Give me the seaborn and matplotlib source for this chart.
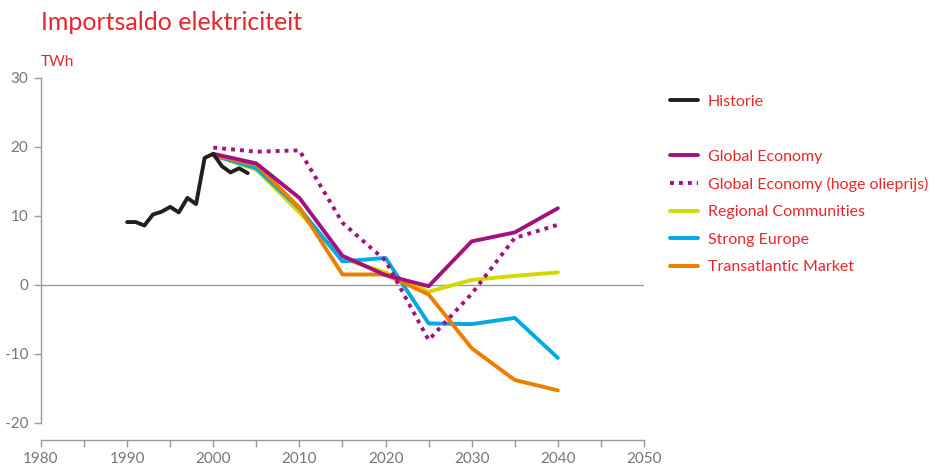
import pandas as pd
import matplotlib.pyplot as plt
import seaborn as sns
from matplotlib.lines import Line2D

# Data
hist_years = [1990, 1991, 1992, 1993, 1994, 1995, 1996, 1997, 1998, 1999,
              2000, 2001, 2002, 2003, 2004]
hist_vals = [9.1, 9.1, 8.6, 10.2, 10.6, 11.3, 10.5, 12.6, 11.7, 18.4,
             19.0, 17.2, 16.3, 16.9, 16.2]

scen_years = [2000, 2005, 2010, 2015, 2020, 2025, 2030, 2035, 2040]
global_economy = [19.0, 17.6, 12.6, 4.2, 1.4, -0.2, 6.3, 7.6, 11.1]
global_economy_oil = [19.9, 19.3, 19.5, 9.0, 3.5, -8.0, -1.3, 6.8, 8.7]
regional_comm = [18.8, 16.7, 10.5, 3.8, 1.8, -1.0, 0.7, 1.3, 1.8]
strong_europe = [18.8, 16.9, 11.1, 3.4, 3.9, -5.6, -5.7, -4.8, -10.6]
transatlantic = [18.8, 17.4, 11.2, 1.5, 1.5, -1.4, -9.2, -13.8, -15.3]

red = '#e8262c'
grey = '#9a9a9a'
colors = {
    'Historie': '#231f20',
    'Global Economy': '#a2127f',
    'Global Economy (hoge olieprijs)': '#a2127f',
    'Regional Communities': '#d3d800',
    'Strong Europe': '#00aae6',
    'Transatlantic Market': '#ef7d00',
}

sns.set_style('white')
plt.rcParams['font.family'] = ['Lato', 'DejaVu Sans']
plt.rcParams['axes.unicode_minus'] = False

fig = plt.figure(figsize=(9.4, 4.66), dpi=100)
ax = fig.add_axes([0.0436, 0.0558, 0.6415, 0.777])

lw = 2.8
dots = (0, (1, 1.3))
sns.lineplot(x=scen_years, y=regional_comm, color=colors['Regional Communities'], lw=lw, ax=ax)
sns.lineplot(x=scen_years, y=strong_europe, color=colors['Strong Europe'], lw=lw, ax=ax)
sns.lineplot(x=scen_years, y=transatlantic, color=colors['Transatlantic Market'], lw=lw, ax=ax)
sns.lineplot(x=scen_years, y=global_economy, color=colors['Global Economy'], lw=lw, ax=ax)
ax.plot(scen_years, global_economy_oil, color=colors['Global Economy (hoge olieprijs)'],
        lw=lw, linestyle=dots)
sns.lineplot(x=hist_years, y=hist_vals, color=colors['Historie'], lw=lw, ax=ax)

ax.axhline(0, color=grey, lw=1, zorder=0)

ax.set_xlim(1980, 2050)
ax.set_ylim(-22.5, 30)
ax.set_xticks(range(1980, 2051, 10))
ax.set_xticks(range(1985, 2050, 10), minor=True)
ax.set_yticks(range(-20, 31, 10))
ax.spines['top'].set_visible(False)
ax.spines['right'].set_visible(False)
for s in ['left', 'bottom']:
    ax.spines[s].set_color(grey)
    ax.spines[s].set_linewidth(1)
ax.spines['left'].set_bounds(-20, 30)
ax.tick_params(axis='both', which='both', direction='out', color=grey, width=1,
               labelcolor='#767676', labelsize=11)
ax.tick_params(axis='x', which='both', length=5, bottom=True, pad=4)
ax.tick_params(axis='y', length=5, left=True, pad=4)

fig.text(0.0436, 0.952, 'Importsaldo elektriciteit', color=red, fontsize=18,
         va='center', ha='left')
fig.text(0.0436, 0.868, 'TWh', color=red, fontsize=11, va='center', ha='left')

# Legend
handles = [
    Line2D([], [], color=colors['Historie'], lw=lw),
    Line2D([], [], color='none'),
    Line2D([], [], color=colors['Global Economy'], lw=lw),
    Line2D([], [], color=colors['Global Economy (hoge olieprijs)'], lw=lw, linestyle=dots),
    Line2D([], [], color=colors['Regional Communities'], lw=lw),
    Line2D([], [], color=colors['Strong Europe'], lw=lw),
    Line2D([], [], color=colors['Transatlantic Market'], lw=lw),
]
labels = ['Historie', '', 'Global Economy', 'Global Economy (hoge olieprijs)',
          'Regional Communities', 'Strong Europe', 'Transatlantic Market']
leg = fig.legend(handles, labels, loc='upper left', bbox_to_anchor=(0.713, 0.797),
                 frameon=False, fontsize=11.5, handlelength=1.75, handletextpad=0.6,
                 labelspacing=0.83, borderaxespad=0, borderpad=0)
for t in leg.get_texts():
    t.set_color(red)

fig.savefig('out.png', dpi=100)
